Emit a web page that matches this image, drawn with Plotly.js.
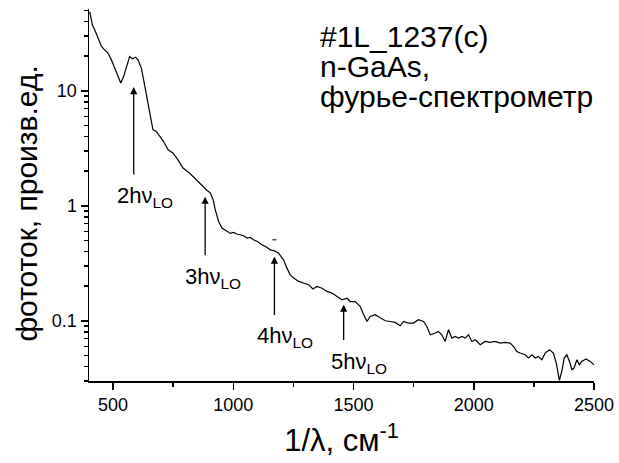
<!DOCTYPE html>
<html>
<head>
<meta charset="utf-8">
<script src="https://cdn.plot.ly/plotly-3.0.1.min.js"></script>
<style>
  html, body { margin: 0; padding: 0; background: #fff; }
  #chart { width: 619px; height: 463px; }
</style>
</head>
<body>
<div id="chart"></div>
<script>
// Photocurrent spectrum of n-GaAs sample #1L_1237(c), Fourier spectrometer
const wavenumber = [403,414,424,438,452,465,479,493,514,532,544,558,569,580,593,604,618,627,639,652,
  666,680,694,710,729,750,770,791,819,846,874,888,905,916,925,939,953,974,988,1001,
  1015,1029,1043,1057,1070,1084,1101,1119,1136,1154,1171,1188,1209,1223,1237,1251,1272,1292,1313,1331,
  1348,1369,1390,1410,1431,1452,1473,1486,1507,1528,1539,1556,1569,1590,1611,1632,1652,1673,1694,1708,
  1729,1749,1770,1791,1805,1819,1840,1853,1867,1881,1895,1909,1923,1937,1951,1964,1978,1992,2006,2027,
  2047,2068,2089,2110,2131,2151,2165,2179,2193,2214,2227,2242,2255,2269,2283,2297,2315,2331,2343,2350,
  2356,2366,2376,2387,2398,2408,2417,2429,2439,2449,2467,2484,2500];
const photocurrent = [48.9,37.5,33.9,28.7,24.3,22.7,21.3,18.6,14.7,11.7,13.3,16.8,19.9,19.0,19.6,18.6,15.7,12.5,9.23,6.18,
  4.58,4.43,4.01,3.62,3.07,2.87,2.51,2.13,1.92,1.68,1.47,1.38,1.29,1.13,0.923,0.730,0.640,0.598,0.575,0.586,
  0.568,0.560,0.548,0.524,0.530,0.506,0.490,0.458,0.440,0.414,0.405,0.388,0.339,0.287,0.251,0.235,0.220,0.213,0.206,0.189,
  0.199,0.192,0.180,0.174,0.163,0.152,0.157,0.147,0.147,0.133,0.117,0.0986,0.109,0.113,0.106,0.100,0.0986,0.0967,0.0905,0.0986,
  0.0955,0.0955,0.102,0.0986,0.0892,0.0755,0.0782,0.0807,0.0755,0.0661,0.0835,0.0707,0.0730,0.0707,0.0730,0.0707,0.0755,0.0661,0.0684,0.0618,
  0.0661,0.0648,0.0661,0.0640,0.0648,0.0640,0.0598,0.0541,0.0524,0.0506,0.0474,0.0506,0.0474,0.0490,0.0458,0.0524,0.0560,0.0524,0.0429,0.0339,
  0.0303,0.0362,0.0474,0.0506,0.0443,0.0375,0.0388,0.0458,0.0414,0.0443,0.0465,0.0443,0.0414];

// stray sample near 4hν_LO
const strayX = [1171];
const strayY = [0.506];

// LO-phonon replicas: arrow position, arrow head / tail levels and labels
const replicaX = [586, 883, 1171, 1459];
const replicaTip = [10.8, 1.2, 0.362, 0.138];
const replicaTail = [1.82, 0.36, 0.109, 0.066];
const replicaLabel = ['2hν<sub>LO</sub>', '3hν<sub>LO</sub>', '4hν<sub>LO</sub>', '5hν<sub>LO</sub>'];

const yTickVals = [0.1, 1, 10];
const yTickText = ['0.1', '1', '10'];
const xTickVals = [500, 1000, 1500, 2000, 2500];

const sampleLines = ['#1L_1237(c)', 'n-GaAs,', 'фурье-спектрометр'];
const yTitle = 'фототок, произв.ед.';
const xTitle = '1/λ, см<sup>-1</sup>';

const FONT = '"Liberation Sans", Arial, sans-serif';

// minor ticks 2..9 in every decade
const yMinor = [];
for (let d = -2; d <= 1; d++) for (let k = 2; k <= 9; k++) yMinor.push(k * Math.pow(10, d));

const traces = [
  { x: wavenumber, y: photocurrent, type: 'scatter', mode: 'lines',
    line: { color: '#000', width: 1.2 }, hoverinfo: 'skip' },
  { x: strayX, y: strayY, type: 'scatter', mode: 'markers',
    marker: { symbol: 'line-ew', size: 3, line: { color: '#000', width: 1 } }, hoverinfo: 'skip' }
];

const annotations = [];
replicaX.forEach((x, i) => {
  annotations.push({
    x: x, y: Math.log10(replicaTip[i]), xref: 'x', yref: 'y',
    ax: x, ay: Math.log10(replicaTail[i]), axref: 'x', ayref: 'y',
    text: '', showarrow: true, arrowhead: 2, arrowsize: 1.1, arrowwidth: 1.3, arrowcolor: '#000'
  });
  annotations.push({
    x: x, y: Math.log10(replicaTail[i]), xref: 'x', yref: 'y',
    text: replicaLabel[i], showarrow: false, xanchor: 'left', yanchor: 'middle',
    xshift: [-19, -22, -19, -15][i], yshift: -21,
    font: { family: FONT, size: 22, color: '#000' }
  });
});
const lineY = [0.925, 0.846, 0.765];
sampleLines.forEach((t, i) => {
  annotations.push({
    x: 0.454, y: lineY[i], xref: 'paper', yref: 'paper', text: t, showarrow: false,
    xanchor: 'left', yanchor: 'middle', font: { family: FONT, size: 30, color: '#000' }
  });
});
// vertical axis caption
annotations.push({
  x: -0.124, y: 0.478, xref: 'paper', yref: 'paper', text: yTitle, showarrow: false,
  textangle: -90, xanchor: 'center', yanchor: 'middle',
  font: { family: FONT, size: 30, color: '#000' }
});

const layout = {
  width: 619, height: 463,
  margin: { l: 89, r: 25, t: 9, b: 82 },
  paper_bgcolor: '#fff', plot_bgcolor: '#fff',
  showlegend: false,
  font: { family: FONT, color: '#000' },
  xaxis: {
    type: 'linear', range: [400, 2500], showgrid: false, zeroline: false,
    showline: true, linecolor: '#000', linewidth: 1.5, mirror: false,
    ticks: 'outside', ticklen: 7, tickwidth: 1.5, tickcolor: '#000',
    tickmode: 'array', tickvals: xTickVals,
    tickfont: { family: FONT, size: 18, color: '#000' },
    minor: { ticks: 'outside', ticklen: 4, tickwidth: 1.5, tickcolor: '#000', tick0: 0, dtick: 250, showgrid: false },
    title: { text: xTitle, font: { family: FONT, size: 31, color: '#000' }, standoff: 15 }
  },
  yaxis: {
    type: 'log', range: [-1.524, 1.712], showgrid: false, zeroline: false,
    showline: true, linecolor: '#000', linewidth: 1.5, mirror: false,
    ticks: 'outside', ticklen: 7, tickwidth: 1.5, tickcolor: '#000',
    tickmode: 'array', tickvals: yTickVals, ticktext: yTickText,
    tickfont: { family: FONT, size: 18, color: '#000' },
    minor: { ticks: 'outside', ticklen: 4, tickwidth: 1.5, tickcolor: '#000', tickmode: 'array', tickvals: yMinor, showgrid: false }
  },
  annotations: annotations
};

Plotly.newPlot('chart', traces, layout, { staticPlot: true, displayModeBar: false });
</script>
</body>
</html>
